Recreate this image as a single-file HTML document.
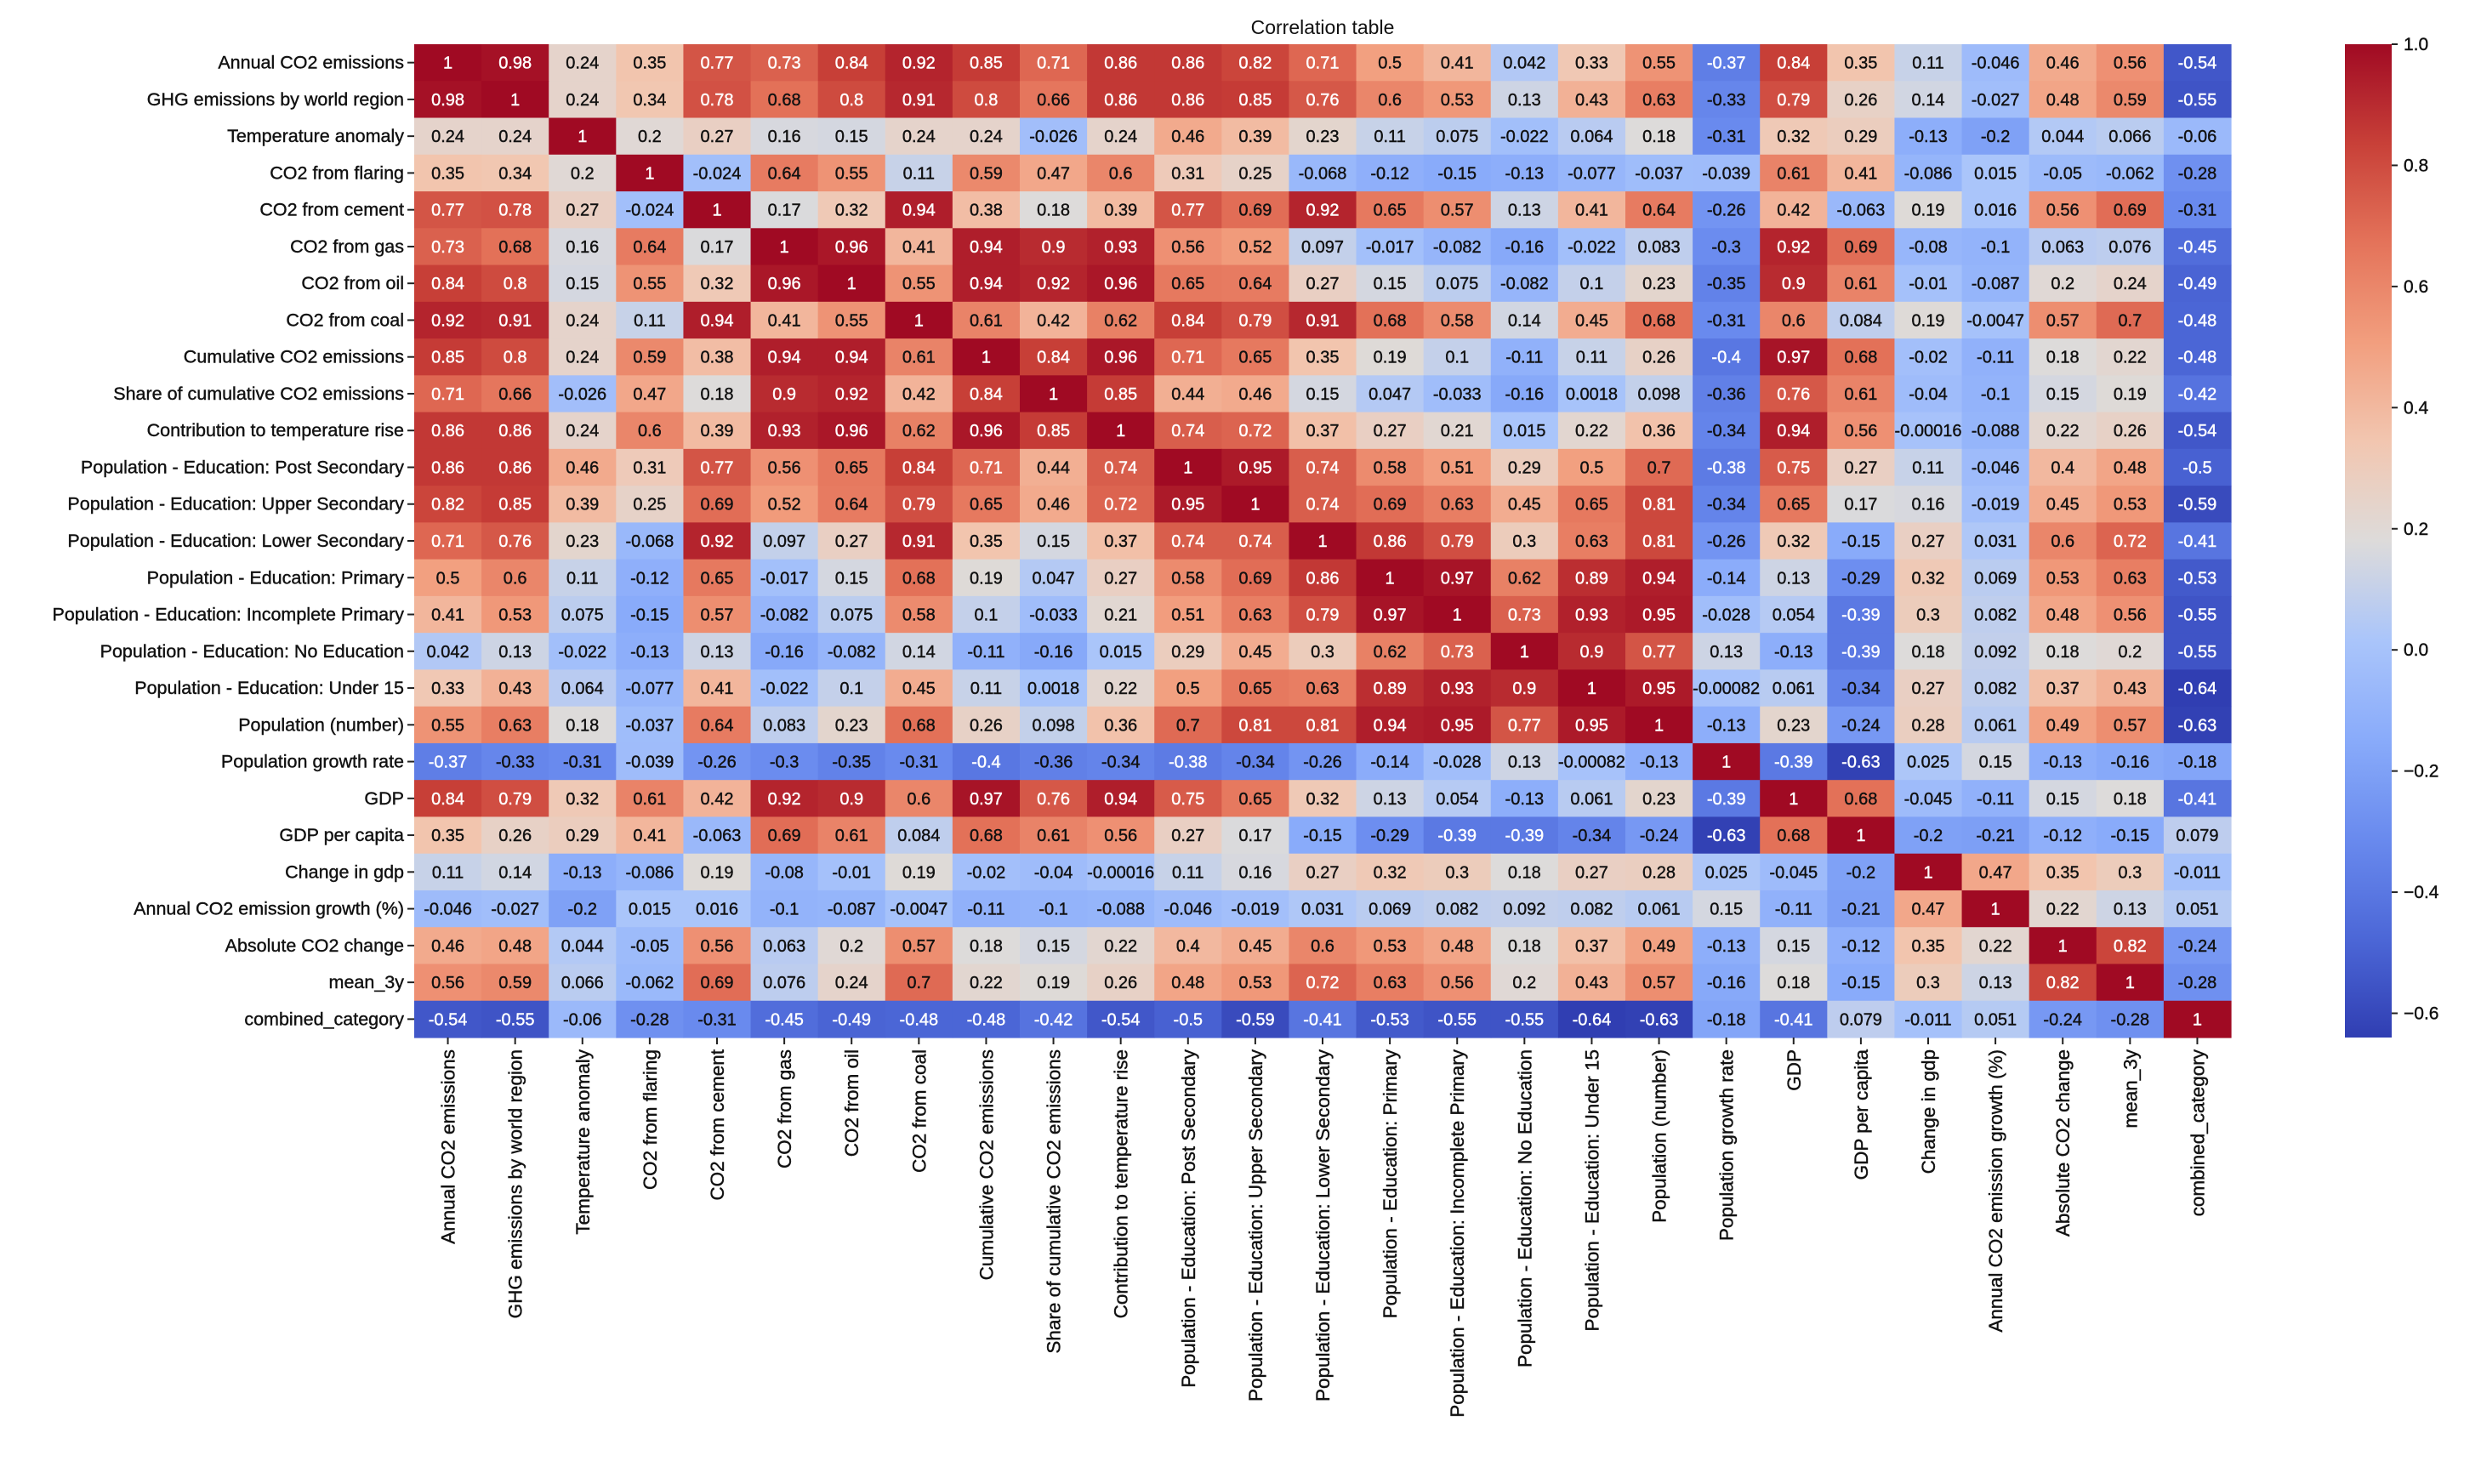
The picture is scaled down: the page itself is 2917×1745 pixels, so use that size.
<!DOCTYPE html>
<html><head><meta charset="utf-8">
<style>
html,body{margin:0;padding:0;background:#fff;}
svg{display:block;font-family:"Liberation Sans","DejaVu Sans",sans-serif;}
</style></head>
<body>
<svg id="chart" width="2917" height="1745" viewBox="0 0 2917 1745" xmlns="http://www.w3.org/2000/svg">
<rect width="2917" height="1745" fill="#fff"/>
<text x="1555" y="40" text-anchor="middle" font-size="23" fill="#111">Correlation table</text>
<g id="cells"></g>
<g id="ylabels"></g>
<g id="xlabels"></g>
<g id="cbar"></g>
</svg>
<script>
const labels = ["Annual CO2 emissions","GHG emissions by world region","Temperature anomaly","CO2 from flaring","CO2 from cement","CO2 from gas","CO2 from oil","CO2 from coal","Cumulative CO2 emissions","Share of cumulative CO2 emissions","Contribution to temperature rise","Population - Education: Post Secondary","Population - Education: Upper Secondary","Population - Education: Lower Secondary","Population - Education: Primary","Population - Education: Incomplete Primary","Population - Education: No Education","Population - Education: Under 15","Population (number)","Population growth rate","GDP","GDP per capita","Change in gdp","Annual CO2 emission growth (%)","Absolute CO2 change","mean_3y","combined_category"];
const r00 = [1,0.98,0.24,0.35,0.77,0.73,0.84,0.92,0.85,0.71,0.86,0.86,0.82,0.71,0.5,0.41,0.042,0.33,0.55,-0.37,0.84,0.35,0.11,-0.046,0.46,0.56,-0.54];
const r01 = [0.98,1,0.24,0.34,0.78,0.68,0.8,0.91,0.8,0.66,0.86,0.86,0.85,0.76,0.6,0.53,0.13,0.43,0.63,-0.33,0.79,0.26,0.14,-0.027,0.48,0.59,-0.55];
const r02 = [0.24,0.24,1,0.2,0.27,0.16,0.15,0.24,0.24,-0.026,0.24,0.46,0.39,0.23,0.11,0.075,-0.022,0.064,0.18,-0.31,0.32,0.29,-0.13,-0.2,0.044,0.066,-0.06];
const r03 = [0.35,0.34,0.2,1,-0.024,0.64,0.55,0.11,0.59,0.47,0.6,0.31,0.25,-0.068,-0.12,-0.15,-0.13,-0.077,-0.037,-0.039,0.61,0.41,-0.086,0.015,-0.05,-0.062,-0.28];
const r04 = [0.77,0.78,0.27,-0.024,1,0.17,0.32,0.94,0.38,0.18,0.39,0.77,0.69,0.92,0.65,0.57,0.13,0.41,0.64,-0.26,0.42,-0.063,0.19,0.016,0.56,0.69,-0.31];
const r05 = [0.73,0.68,0.16,0.64,0.17,1,0.96,0.41,0.94,0.9,0.93,0.56,0.52,0.097,-0.017,-0.082,-0.16,-0.022,0.083,-0.3,0.92,0.69,-0.08,-0.1,0.063,0.076,-0.45];
const r06 = [0.84,0.8,0.15,0.55,0.32,0.96,1,0.55,0.94,0.92,0.96,0.65,0.64,0.27,0.15,0.075,-0.082,0.1,0.23,-0.35,0.9,0.61,-0.01,-0.087,0.2,0.24,-0.49];
const r07 = [0.92,0.91,0.24,0.11,0.94,0.41,0.55,1,0.61,0.42,0.62,0.84,0.79,0.91,0.68,0.58,0.14,0.45,0.68,-0.31,0.6,0.084,0.19,-0.0047,0.57,0.7,-0.48];
const r08 = [0.85,0.8,0.24,0.59,0.38,0.94,0.94,0.61,1,0.84,0.96,0.71,0.65,0.35,0.19,0.1,-0.11,0.11,0.26,-0.4,0.97,0.68,-0.02,-0.11,0.18,0.22,-0.48];
const r09 = [0.71,0.66,-0.026,0.47,0.18,0.9,0.92,0.42,0.84,1,0.85,0.44,0.46,0.15,0.047,-0.033,-0.16,0.0018,0.098,-0.36,0.76,0.61,-0.04,-0.1,0.15,0.19,-0.42];
const r10 = [0.86,0.86,0.24,0.6,0.39,0.93,0.96,0.62,0.96,0.85,1,0.74,0.72,0.37,0.27,0.21,0.015,0.22,0.36,-0.34,0.94,0.56,-0.00016,-0.088,0.22,0.26,-0.54];
const r11 = [0.86,0.86,0.46,0.31,0.77,0.56,0.65,0.84,0.71,0.44,0.74,1,0.95,0.74,0.58,0.51,0.29,0.5,0.7,-0.38,0.75,0.27,0.11,-0.046,0.4,0.48,-0.5];
const r12 = [0.82,0.85,0.39,0.25,0.69,0.52,0.64,0.79,0.65,0.46,0.72,0.95,1,0.74,0.69,0.63,0.45,0.65,0.81,-0.34,0.65,0.17,0.16,-0.019,0.45,0.53,-0.59];
const r13 = [0.71,0.76,0.23,-0.068,0.92,0.097,0.27,0.91,0.35,0.15,0.37,0.74,0.74,1,0.86,0.79,0.3,0.63,0.81,-0.26,0.32,-0.15,0.27,0.031,0.6,0.72,-0.41];
const r14 = [0.5,0.6,0.11,-0.12,0.65,-0.017,0.15,0.68,0.19,0.047,0.27,0.58,0.69,0.86,1,0.97,0.62,0.89,0.94,-0.14,0.13,-0.29,0.32,0.069,0.53,0.63,-0.53];
const r15 = [0.41,0.53,0.075,-0.15,0.57,-0.082,0.075,0.58,0.1,-0.033,0.21,0.51,0.63,0.79,0.97,1,0.73,0.93,0.95,-0.028,0.054,-0.39,0.3,0.082,0.48,0.56,-0.55];
const r16 = [0.042,0.13,-0.022,-0.13,0.13,-0.16,-0.082,0.14,-0.11,-0.16,0.015,0.29,0.45,0.3,0.62,0.73,1,0.9,0.77,0.13,-0.13,-0.39,0.18,0.092,0.18,0.2,-0.55];
const r17 = [0.33,0.43,0.064,-0.077,0.41,-0.022,0.1,0.45,0.11,0.0018,0.22,0.5,0.65,0.63,0.89,0.93,0.9,1,0.95,-0.00082,0.061,-0.34,0.27,0.082,0.37,0.43,-0.64];
const r18 = [0.55,0.63,0.18,-0.037,0.64,0.083,0.23,0.68,0.26,0.098,0.36,0.7,0.81,0.81,0.94,0.95,0.77,0.95,1,-0.13,0.23,-0.24,0.28,0.061,0.49,0.57,-0.63];
const r19 = [-0.37,-0.33,-0.31,-0.039,-0.26,-0.3,-0.35,-0.31,-0.4,-0.36,-0.34,-0.38,-0.34,-0.26,-0.14,-0.028,0.13,-0.00082,-0.13,1,-0.39,-0.63,0.025,0.15,-0.13,-0.16,-0.18];
const r20 = [0.84,0.79,0.32,0.61,0.42,0.92,0.9,0.6,0.97,0.76,0.94,0.75,0.65,0.32,0.13,0.054,-0.13,0.061,0.23,-0.39,1,0.68,-0.045,-0.11,0.15,0.18,-0.41];
const r21 = [0.35,0.26,0.29,0.41,-0.063,0.69,0.61,0.084,0.68,0.61,0.56,0.27,0.17,-0.15,-0.29,-0.39,-0.39,-0.34,-0.24,-0.63,0.68,1,-0.2,-0.21,-0.12,-0.15,0.079];
const r22 = [0.11,0.14,-0.13,-0.086,0.19,-0.08,-0.01,0.19,-0.02,-0.04,-0.00016,0.11,0.16,0.27,0.32,0.3,0.18,0.27,0.28,0.025,-0.045,-0.2,1,0.47,0.35,0.3,-0.011];
const r23 = [-0.046,-0.027,-0.2,0.015,0.016,-0.1,-0.087,-0.0047,-0.11,-0.1,-0.088,-0.046,-0.019,0.031,0.069,0.082,0.092,0.082,0.061,0.15,-0.11,-0.21,0.47,1,0.22,0.13,0.051];
const r24 = [0.46,0.48,0.044,-0.05,0.56,0.063,0.2,0.57,0.18,0.15,0.22,0.4,0.45,0.6,0.53,0.48,0.18,0.37,0.49,-0.13,0.15,-0.12,0.35,0.22,1,0.82,-0.24];
const r25 = [0.56,0.59,0.066,-0.062,0.69,0.076,0.24,0.7,0.22,0.19,0.26,0.48,0.53,0.72,0.63,0.56,0.2,0.43,0.57,-0.16,0.18,-0.15,0.3,0.13,0.82,1,-0.28];
const r26 = [-0.54,-0.55,-0.06,-0.28,-0.31,-0.45,-0.49,-0.48,-0.48,-0.42,-0.54,-0.5,-0.59,-0.41,-0.53,-0.55,-0.55,-0.64,-0.63,-0.18,-0.41,0.079,-0.011,0.051,-0.24,-0.28,1];
const matrix = [r00,r01,r02,r03,r04,r05,r06,r07,r08,r09,r10,r11,r12,r13,r14,r15,r16,r17,r18,r19,r20,r21,r22,r23,r24,r25,r26];
const cbarTicks = [1.0,0.8,0.6,0.4,0.2,0.0,-0.2,-0.4,-0.6];
const vmin = -0.64, vmax = 1.0;

const NS = "http://www.w3.org/2000/svg";
const L = 487, T = 52, R = 2623, B = 1220;
const n = labels.length;
const cw = (R - L) / n, ch = (B - T) / n;
const xPos = i => L + i * cw;
const yPos = i => T + i * ch;
const stops = [[0,[48,62,178]],[0.1,[76,103,215]],[0.2,[105,138,238]],[0.3,[137,171,250]],[0.4,[170,197,250]],[0.5,[221,219,218]],[0.6,[242,198,176]],[0.7,[242,158,126]],[0.8,[228,115,90]],[0.9,[200,64,56]],[1,[160,10,35]]];
function cmap(t){
  t = Math.max(0, Math.min(1, t));
  for (let k = 1; k < stops.length; k++) {
    if (t <= stops[k][0]) {
      const a = stops[k-1], b = stops[k];
      const f = (t - a[0]) / (b[0] - a[0]);
      return a[1].map((c, j) => Math.round(c + (b[1][j] - c) * f));
    }
  }
  return stops[stops.length-1][1];
}
const norm = v => (v - vmin) / (vmax - vmin);
function mk(tag, attrs, parent){
  const e = document.createElementNS(NS, tag);
  for (const k in attrs) e.setAttribute(k, attrs[k]);
  parent.appendChild(e);
  return e;
}
const cells = document.getElementById('cells');
for (let r = 0; r < n; r++) {
  for (let c = 0; c < n; c++) {
    const v = matrix[r][c];
    const rgb = cmap(norm(v));
    const rect = mk('rect', {x: xPos(c), y: yPos(r), width: cw + 0.6, height: ch + 0.6, fill: `rgb(${rgb.join(',')})`}, cells);
    
    
    const lum = (0.2126*rgb[0] + 0.7152*rgb[1] + 0.0722*rgb[2]) / 255;
    const col = lum < 0.5 ? '#fff' : '#111';
    const t = mk('text', {x: xPos(c) + cw/2, y: yPos(r) + ch/2 + 7, 'text-anchor': 'middle', 'font-size': 20, fill: col, stroke: col, 'stroke-width': 0.4}, cells);
    
    
    t.textContent = String(v);
  }
}
const yl = document.getElementById('ylabels');
const xl = document.getElementById('xlabels');
for (let i = 0; i < n; i++) {
  const cy = yPos(i) + ch/2;
  const tk = mk('line', {x1: L - 8, x2: L, y1: cy, y2: cy, stroke: '#222', 'stroke-width': 2}, yl);
  
  
  const t = mk('text', {x: L - 12, y: cy + 7, 'text-anchor': 'end', 'font-size': 21.5, fill: '#111', stroke: '#111', 'stroke-width': 0.4}, yl);
  
  
  t.textContent = labels[i];
  const cx = xPos(i) + cw/2;
  const tk2 = mk('line', {x1: cx, x2: cx, y1: B, y2: B + 8, stroke: '#222', 'stroke-width': 2}, xl);
  
  
  const t2 = mk('text', {x: 0, y: 0, 'text-anchor': 'end', 'font-size': 22.5, fill: '#111', stroke: '#111', 'stroke-width': 0.4, transform: `translate(${cx + 8},${B + 14}) rotate(-90)`}, xl);
  
  
  t2.textContent = labels[i];
}
// colorbar
const cb = document.getElementById('cbar');
const CX = 2757, CW = 55;
const cbY = v => T + (vmax - v) / (vmax - vmin) * (B - T);
const defs = mk('defs', {}, cb);
const grad = mk('linearGradient', {id: 'cg', x1: 0, y1: 1, x2: 0, y2: 0}, defs);
for (let k = 0; k <= 20; k++) {
  const rgb = cmap(k / 20);
  mk('stop', {offset: k / 20, 'stop-color': `rgb(${rgb.join(',')})`}, grad);
}
const bar = mk('rect', {x: CX, y: T, width: CW, height: B - T, fill: 'url(#cg)'}, cb);


cbarTicks.forEach(v => {
  const y = cbY(v);
  const tk = mk('line', {x1: CX + CW, x2: CX + CW + 7, y1: y, y2: y, stroke: '#222', 'stroke-width': 2}, cb);
  
  
  const t = mk('text', {x: CX + CW + 14, y: y + 7, 'font-size': 21, fill: '#111', stroke: '#111', 'stroke-width': 0.4}, cb);
  
  
  t.textContent = v < 0 ? '\u2212' + Math.abs(v).toFixed(1) : v.toFixed(1);
});
</script>
</body></html>
